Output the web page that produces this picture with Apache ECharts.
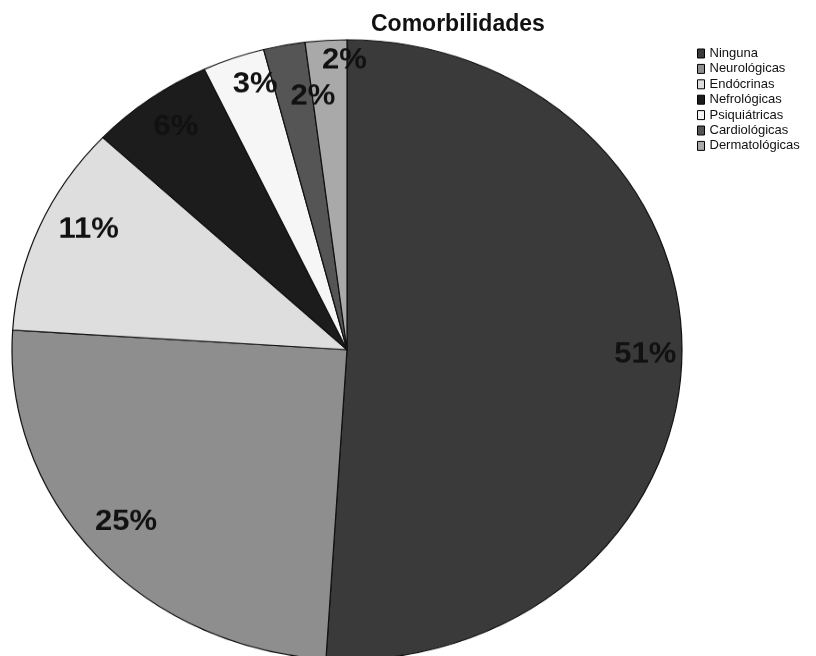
<!DOCTYPE html>
<html>
<head>
<meta charset="utf-8">
<script src="https://cdn.jsdelivr.net/npm/echarts@6/dist/echarts.min.js"></script>
<style>
  html, body { margin: 0; padding: 0; background: #fff; overflow: hidden; }
  #wrap { position: relative; width: 816px; height: 656px; overflow: hidden; }
  #pieChart { position: absolute; left: 0; top: 0; width: 816px; height: 709px;
              transform: scaleY(0.925); transform-origin: 0 0; }
  #topChart { position: absolute; left: 0; top: 0; width: 816px; height: 656px; }
</style>
</head>
<body>
<div id="wrap">
  <div id="pieChart"></div>
  <div id="topChart"></div>
</div>
<script>
// ---- data ----
var titleText = 'Comorbilidades';
var categories = ['Ninguna', 'Neurológicas', 'Endócrinas', 'Nefrológicas', 'Psiquiátricas', 'Cardiológicas', 'Dermatológicas'];
var values = [51, 25, 11, 6, 3, 2, 2];

// ---- styles ----
var sliceColors = ['#3a3a3a', '#8e8e8e', '#dedede', '#1c1c1c', '#f6f6f6', '#555555', '#a9a9a9'];
var labelNudge = [[4, -4], [0, -8], [12, -13], [2, -2], [8, -9], [21, 16], [16, -19]];
var fontFam = '"Liberation Sans", Arial, Helvetica, sans-serif';

function pieData(withColor) {
  return categories.map(function (c, i) {
    var d = { name: c, value: values[i] };
    if (withColor) d.itemStyle = { color: sliceColors[i] };
    return d;
  });
}

var pieChart = echarts.init(document.getElementById('pieChart'), null, { renderer: 'canvas' });
pieChart.setOption({
  animation: false,
  backgroundColor: '#ffffff',
  series: [
    {
      type: 'pie',
      center: [347, 378],
      radius: 335,
      startAngle: 90,
      clockwise: true,
      silent: true,
      label: { show: false },
      labelLine: { show: false },
      itemStyle: { borderColor: '#111', borderWidth: 1.2 },
      data: pieData(true)
    },
    {
      type: 'pie',
      center: [347, 378],
      radius: [248, 335],
      startAngle: 90,
      clockwise: true,
      silent: true,
      avoidLabelOverlap: false,
      itemStyle: { color: 'rgba(0,0,0,0)', borderWidth: 0 },
      label: {
        show: true,
        position: 'inside',
        formatter: '{c}%',
        color: '#111',
        fontFamily: fontFam,
        fontWeight: 'bold',
        fontSize: 31
      },
      labelLine: { show: false },
      labelLayout: function (p) {
        var n = labelNudge[p.dataIndex] || [0, 0];
        return { dx: n[0], dy: n[1] };
      },
      data: pieData(false)
    }
  ]
});

var topChart = echarts.init(document.getElementById('topChart'), null, { renderer: 'canvas' });
topChart.setOption({
  animation: false,
  backgroundColor: 'transparent',
  title: {
    text: titleText,
    left: 366,
    top: 8,
    textStyle: { fontFamily: fontFam, fontWeight: 'bold', fontSize: 23, color: '#111' }
  },
  legend: {
    orient: 'vertical',
    left: 697,
    top: 47,
    padding: 0,
    itemWidth: 7,
    itemHeight: 9,
    itemGap: 2.4,
    icon: 'rect',
    selectedMode: false,
    itemStyle: { borderColor: '#000', borderWidth: 1 },
    textStyle: { fontFamily: fontFam, fontSize: 13, color: '#111', lineHeight: 13 },
    data: categories
  },
  series: [
    {
      type: 'pie',
      center: [-200, -200],
      radius: 1,
      silent: true,
      label: { show: false },
      labelLine: { show: false },
      itemStyle: { borderWidth: 0 },
      data: pieData(true)
    }
  ]
});
</script>
</body>
</html>
